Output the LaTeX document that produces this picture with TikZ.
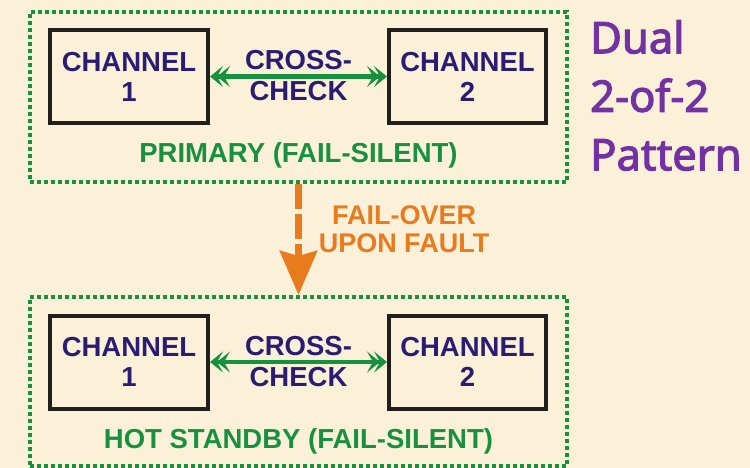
\documentclass[tikz,border=0pt]{standalone}
\usepackage{fontspec}
\setmainfont{Liberation Sans}
\newfontfamily\dualfont{Noto Sans}[FakeBold=2.6]
\usetikzlibrary{arrows.meta}

\definecolor{parch}{HTML}{FBF0D8}
\definecolor{navy}{HTML}{2A1C72}
\definecolor{grn}{HTML}{17913F}
\definecolor{orng}{HTML}{E87B1E}
\definecolor{purp}{HTML}{7332A3}
\definecolor{ink}{HTML}{221E1E}

\tikzset{
  xtip/.tip={Stealth[length=13pt,width=21pt,inset=6pt,sep=-6pt]Stealth[length=13pt,width=21pt,inset=6pt]},
}

\begin{document}
\begin{tikzpicture}[x=1pt,y=-1pt,
  chan/.style={draw=ink,line width=4pt,minimum width=158pt,minimum height=93pt,
    inner sep=0pt,align=center,text=navy,font=\bfseries\fontsize{27.5}{30}\selectfont},
  xtext/.style={align=center,inner sep=0pt,text=navy,
    font=\bfseries\fontsize{27.5}{31}\selectfont},
  zone/.style={draw=grn,line width=4pt,dash pattern=on 4pt off 3pt,
    minimum width=537pt,inner sep=0pt},
  zonelabel/.style={anchor=base,inner sep=0pt,text=grn,
    font=\bfseries\fontsize{27.5}{30}\selectfont},
  xcheck/.style={draw=grn,line width=4.5pt,xtip-xtip},
  failover/.style={draw=orng,line width=7pt,dash pattern=on 25pt off 5pt,
    -{Stealth[length=44pt,width=37pt,inset=5pt]}},
]
% page and background
\fill[parch] (0,0) rectangle (750,468);
\useasboundingbox (0,0) rectangle (750,468);

% the two dotted redundancy zones
\node[zone,minimum height=170pt] (primary) at (298.5,97) {};
\node[zone,minimum height=169pt] (standby) at (298.5,381.5) {};

% primary pair
\node[chan] (p1) at (129,76.5) {CHANNEL\\1};
\node[chan,minimum width=157pt] (p2) at (467.5,76.5) {CHANNEL\\2};
\node[xtext] (pcc) at (298.5,76) {CROSS-\\CHECK};
\draw[xcheck] (p1.east) -- (p2.west);
\node[zonelabel] (plabel) at (298.5,163) {PRIMARY (FAIL-SILENT)};

% standby pair
\node[chan] (s1) at (129,362) {CHANNEL\\1};
\node[chan,minimum width=157pt] (s2) at (467.5,362) {CHANNEL\\2};
\node[xtext] (scc) at (298.5,362) {CROSS-\\CHECK};
\draw[xcheck] (s1.east) -- (s2.west);
\node[zonelabel] (slabel) at (298.5,448) {HOT STANDBY (FAIL-SILENT)};

% fail-over transition
\draw[failover] (primary.south) -- (standby.north);
\node[align=center,inner sep=0pt,text=orng,
  font=\bfseries\fontsize{27}{28}\selectfont] (fo) at (404,229) {FAIL-OVER\\UPON FAULT};

% title
\node[anchor=north west,align=left,inner sep=0pt,text=purp,
  font=\dualfont\fontsize{43.5}{58.5}\selectfont] (title) at (590,20) {Dual\\2-of-2\\Pattern};
\end{tikzpicture}
\end{document}
